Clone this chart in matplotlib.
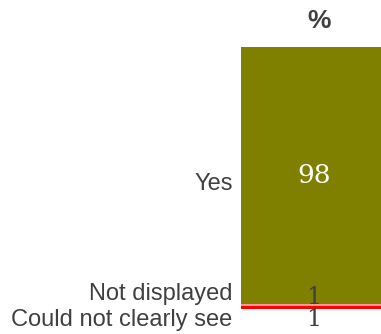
import matplotlib
matplotlib.use("Agg")
import matplotlib.pyplot as plt

# Data (bottom to top)
categories = ["Could not clearly see", "Not displayed", "Yes"]
values = [1, 1, 98]
value_labels = ["1", "1", "98"]
colors = ["#ff0000", "#ff9999", "#808000"]
label_y_offsets = [-4.7, 4.2, -3.3]   # nudges for the category labels (data units)
value_y_offsets = [-4.4, 2.9, -0.2]   # nudges for the value labels (data units)
value_colors = ["#404040", "#404040", "white"]
value_sizes = [17, 17, 19]
header = "%"

TEXT_COLOR = "#404040"

fig = plt.figure(figsize=(3.81, 3.34), dpi=100)
ax = fig.add_axes([241 / 381, 25 / 334, 140 / 381, 262 / 334])

bottom = 0
for cat, val, lab, col, ly, vy, vc, vs in zip(categories, values, value_labels, colors,
                                              label_y_offsets, value_y_offsets,
                                              value_colors, value_sizes):
    ax.bar(0, val, bottom=bottom, width=1.0, color=col, edgecolor="none")
    mid = bottom + val / 2
    ax.text(0.02, mid + vy, lab, ha="center", va="center", color=vc,
            fontsize=vs, family="DejaVu Serif")
    ax.annotate(cat, xy=(-0.5, mid + ly), xycoords="data",
                xytext=(-6, 0), textcoords="offset points",
                ha="right", va="center", color=TEXT_COLOR,
                fontsize=17, family="Liberation Sans", annotation_clip=False)
    bottom += val

ax.set_xlim(-0.5, 0.5)
ax.set_ylim(0, 100)
ax.axis("off")

fig.text(319 / 381, 1 - 21 / 334, header, ha="center", va="center",
         fontsize=19, fontweight="bold", color=TEXT_COLOR, family="Liberation Sans")

fig.savefig("out.png", dpi=100)
